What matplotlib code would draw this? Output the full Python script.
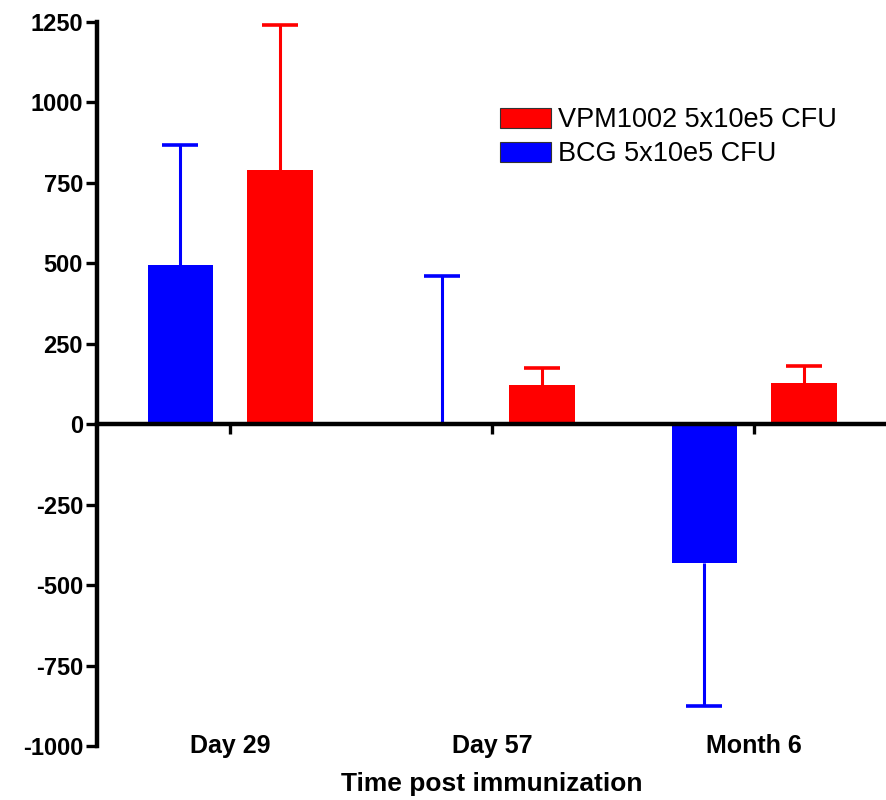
import numpy as np
import matplotlib
matplotlib.use("Agg")
import matplotlib.pyplot as plt
from matplotlib.transforms import ScaledTranslation

plt.rcParams["font.family"] = ["Liberation Sans", "DejaVu Sans"]
plt.rcParams["axes.unicode_minus"] = False

# --------------------------------------------------
# Data: change from baseline per time point
# --------------------------------------------------
timepoints = ["Day 29", "Day 57", "Month 6"]
bcg_mean = [495, 0, -432]
bcg_err = [372, 462, 444]
vpm_mean = [789, 121, 127]
vpm_err = [452, 53, 53]

labels = ["VPM1002 5x10e5 CFU", "BCG 5x10e5 CFU"]
colors = {"vpm": "#ff0000", "bcg": "#0000ff"}


def draw_group(ax, xpos, mean, err, color, label, width):
    mean = np.asarray(mean, float)
    err = np.asarray(err, float)
    sign = np.where(mean < 0, -1, 1)
    ends = mean + sign * err
    ax.bar(xpos, mean, width, color=color, label=label, zorder=2)
    # one-sided whisker with a cap only at the far end
    ax.vlines(xpos, mean, ends, color=color, linewidth=2.2, zorder=1)
    ax.plot(xpos, ends, linestyle="none", marker="_", markersize=26,
            markeredgewidth=2.6, color=color, zorder=1)


# --------------------------------------------------
# Plot
# --------------------------------------------------
fig = plt.figure(figsize=(8.87, 8.0), dpi=100)
ax = fig.add_axes([97 / 887, 1 - 746 / 800, 1 - 97 / 887, (746 - 22) / 800])

x = np.arange(len(timepoints))
width = 0.25
offset = 0.19

draw_group(ax, x - offset, bcg_mean, bcg_err, colors["bcg"], labels[1], width)
draw_group(ax, x + offset, vpm_mean, vpm_err, colors["vpm"], labels[0], width)

ax.set_xlim(-0.508, 2.507)
ax.set_ylim(-1000, 1250)
ax.set_yticks(np.arange(-1000, 1251, 250))

# axis styling: y spine on the left, x spine crossing at zero
for side in ["top", "right"]:
    ax.spines[side].set_visible(False)
ax.spines["left"].set_linewidth(3.2)
ax.spines["bottom"].set_linewidth(3.2)
ax.spines["bottom"].set_position(("data", 0))
ax.spines["bottom"].set_zorder(3)

ax.tick_params(axis="y", direction="out", length=8, width=2.4, pad=2,
               labelsize=17)
ax.tick_params(axis="x", direction="out", length=7, width=2.4,
               labelbottom=False)
ax.set_xticks(x)
for lab in ax.get_yticklabels():
    lab.set_fontweight("bold")

# category names sit at the bottom of the plot, not on the zero line
for xi, name in zip(x, timepoints):
    ax.text(xi, -1000, name, ha="center", va="center", fontsize=18,
            fontweight="bold", clip_on=False)
ax.text(1, -1000, "Time post immunization", ha="center", va="center",
        fontsize=19, fontweight="bold", clip_on=False,
        transform=ax.transData + ScaledTranslation(0, -38 / 100,
                                                   fig.dpi_scale_trans))

handles, names = ax.get_legend_handles_labels()
leg = ax.legend(handles[::-1], names[::-1], loc="upper left",
                bbox_to_anchor=(500 / 887, 1 - 107 / 800),
                bbox_transform=fig.transFigure, frameon=False, fontsize=19.5,
                handlelength=1.9, handleheight=0.76, handletextpad=0.26,
                labelspacing=0.3, borderpad=0, borderaxespad=0)
for patch in leg.get_patches():
    patch.set_edgecolor("#333333")
    patch.set_linewidth(0.8)

fig.savefig("out.png", dpi=100)
